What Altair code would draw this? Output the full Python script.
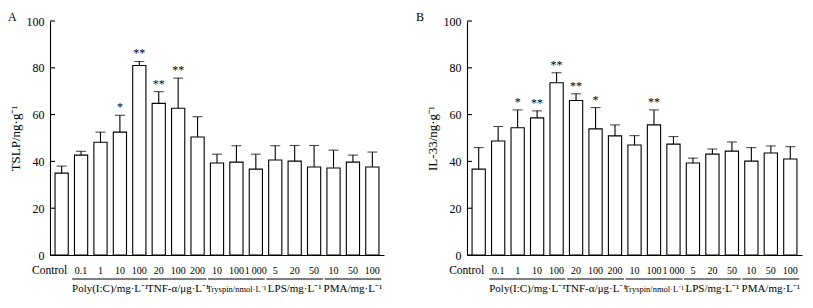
import altair as alt
import pandas as pd

# ---- data ----
labels = ["Control", "0.1", "1", "10", "100", "20", "100", "200",
          "10", "100", "1\u2009000", "5", "20", "50", "10", "50", "100"]
group_names = ["Poly(I:C)/mg·L⁻¹", "TNF-α/μg·L⁻¹", "Tryspin/nmol·L⁻¹",
               "LPS/mg·L⁻¹", "PMA/mg·L⁻¹"]
group_sizes = [4, 3, 3, 3, 3]

tslp_mean = [35.0, 42.7, 48.2, 52.5, 81.0, 64.8, 62.7, 50.4, 39.3, 39.7,
             36.7, 40.6, 40.1, 37.6, 37.2, 39.7, 37.6]
tslp_sd = [3.0, 1.6, 4.3, 7.2, 1.7, 5.0, 12.9, 8.7, 3.8, 7.0,
           6.4, 6.1, 6.7, 9.2, 7.6, 3.0, 6.4]
tslp_sig = ["", "", "", "*", "**", "**", "**", "", "", "",
            "", "", "", "", "", "", ""]

il33_mean = [36.7, 48.7, 54.4, 58.6, 73.6, 66.0, 53.9, 50.9, 47.0, 55.6,
             47.4, 39.3, 43.1, 44.4, 40.1, 43.6, 41.0]
il33_sd = [9.2, 6.2, 7.6, 3.0, 4.3, 2.9, 9.1, 4.7, 4.0, 6.4,
           3.2, 2.1, 2.2, 3.9, 5.8, 3.0, 5.3]
il33_sig = ["", "", "*", "**", "**", "**", "*", "", "", "**",
            "", "", "", "", "", "", ""]

y_ticks = [0, 20, 40, 60, 80, 100]

FONT = "'Liberation Serif', 'Times New Roman', serif"
H = 234
P_IN, P_OUT = 0.32, 0.26
N = len(labels)

keys = [f"k{i:02d}" for i in range(N)]

# group table: positions expressed in bar-index units
g_start, g_end = [], []
start = 1
for n in group_sizes:
    g_start.append(start - 0.12)
    g_end.append(start + n - 1 + (1 - P_IN) + 0.12)
    start += n
groups_df = pd.DataFrame({"name": group_names, "s": g_start, "e": g_end})
groups_df["c"] = (groups_df["s"] + groups_df["e"]) / 2
ticks_df = pd.DataFrame({"v": y_ticks})
# linear scale matching the band layout (band i starts at i)
idx_scale = alt.Scale(domain=[-P_OUT, N - P_IN + P_OUT], nice=False, zero=False)


def panel(mean, sd, sig, ytitle, letter, letter_x, width):
    df = pd.DataFrame({"key": keys, "label": labels, "mean": mean,
                       "top": [m + s for m, s in zip(mean, sd)], "sig": sig})
    xscale = alt.Scale(paddingInner=P_IN, paddingOuter=P_OUT, domain=keys)
    base = alt.Chart(df)
    bars = base.mark_bar(fill="white", stroke="black", strokeWidth=1.1).encode(
        x=alt.X("key:N", scale=xscale,
                axis=alt.Axis(labels=False, ticks=False, title=None,
                              domainColor="black", domainWidth=1.1)),
        y=alt.Y("mean:Q", scale=alt.Scale(domain=[0, 100], nice=False),
                axis=alt.Axis(values=y_ticks, tickSize=0, labelPadding=6,
                              labelFontSize=12, labelColor="black",
                              domainColor="black", domainWidth=1.1, grid=False,
                              title=ytitle, titleFontSize=13,
                              titleFontWeight="normal", titleColor="black",
                              titlePadding=4)),
    )
    err = base.mark_rule(color="black", strokeWidth=1.1).encode(
        x="key:N", y=alt.Y("mean:Q", title=ytitle), y2="top:Q")
    caps = base.mark_tick(color="black", thickness=1.1, size=10).encode(
        x="key:N", y=alt.Y("top:Q", title=ytitle))
    stars = base.mark_text(baseline="alphabetic", dy=-4, fontSize=12,
                           color="black").encode(
        x="key:N", y=alt.Y("top:Q", title=ytitle), text="sig:N")
    yt = alt.Chart(ticks_df).mark_rule(color="black", strokeWidth=1.1).encode(
        y=alt.Y("v:Q", title=ytitle), x=alt.value(0), x2=alt.value(5))
    xlab = base.mark_text(baseline="middle", fontSize=10, color="black").encode(
        x="key:N", y=alt.value(H + 16), text="label:N"
    ).transform_filter("datum.label != 'Control'")
    ctrl = base.mark_text(baseline="middle", align="right", dx=-1, fontSize=11.5,
                          color="black").encode(
        x=alt.X("key:N", bandPosition=1), y=alt.value(H + 16), text="label:N"
    ).transform_filter("datum.label == 'Control'")
    let = alt.Chart(pd.DataFrame({"t": [letter]})).mark_text(
        align="left", baseline="alphabetic", fontSize=12, color="black").encode(
        x=alt.value(letter_x), y=alt.value(0), text="t:N")
    main = alt.layer(bars, err, caps, stars, yt, xlab, ctrl, let)

    gbase = alt.Chart(groups_df)
    glines = gbase.mark_rule(color="black", strokeWidth=1.1).encode(
        x=alt.X("s:Q", scale=idx_scale, axis=None), x2="e:Q",
        y=alt.value(H + 24))
    gsize = alt.condition("datum.name == 'Tryspin/nmol·L⁻¹'",
                          alt.value(8.5), alt.value(11))
    gtext = gbase.mark_text(baseline="middle", color="black").encode(
        x=alt.X("c:Q", scale=idx_scale, axis=None), y=alt.value(H + 34),
        text="name:N", size=gsize)
    grp = alt.layer(glines, gtext)
    return alt.layer(main, grp).resolve_scale(x="independent").properties(
        width=width, height=H)


a = panel(tslp_mean, tslp_sd, tslp_sig, "TSLP/ng·g⁻¹", "A", -42, 334)
b = panel(il33_mean, il33_sd, il33_sig, "IL-33/ng·g⁻¹", "B", -51, 335)

chart = alt.hconcat(a, b, spacing=83, bounds="flush").properties(
    padding={"left": 8, "top": 11, "right": 5, "bottom": 5}
).configure(background="white", font=FONT).configure_view(stroke=None).configure_axis(
    labelFont=FONT, titleFont=FONT
).configure_text(font=FONT)

chart.save("out.html", embed_options={"renderer": "svg", "actions": False})
